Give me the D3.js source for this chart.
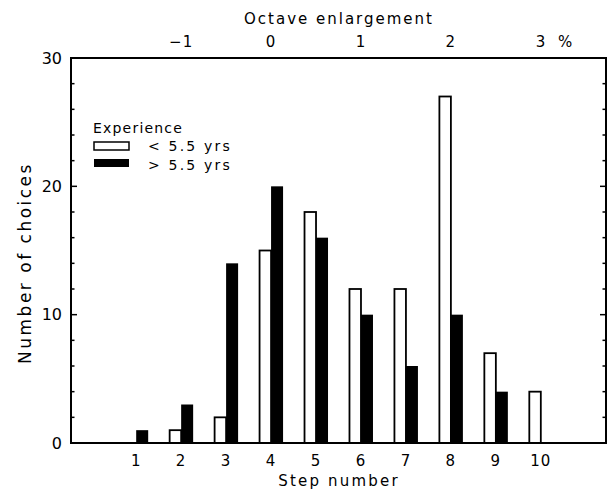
<!DOCTYPE html>
<html>
<head>
<meta charset="utf-8">
<script src="https://cdn.jsdelivr.net/npm/d3@7"></script>
<style>
  body { margin: 0; background: #fff; }
  text { font-family: "DejaVu Sans", sans-serif; fill: #000; }
</style>
</head>
<body>
<div id="chart"></div>
<script>
// step numbers and counts per experience group
const steps = [1, 2, 3, 4, 5, 6, 7, 8, 9, 10];
const lessExp = [0, 1, 2, 15, 18, 12, 12, 27, 7, 4];   // < 5.5 yrs (open bars)
const moreExp = [1, 3, 14, 20, 16, 10, 6, 10, 4, 0];   // > 5.5 yrs (filled bars)
const yTicks = [0, 10, 20, 30];
const octaveTicks = [-1, 0, 1, 2, 3];
const octaveLabels = ['\u22121', '0', '1', '2', '3 %'];

const width = 614, height = 494;
const margin = { top: 58, right: 8, bottom: 51, left: 71 };

const svg = d3.select('#chart')
  .append('svg')
    .attr('width', width)
    .attr('height', height);

const x = d3.scaleLinear()
  .domain([-0.45, 11.45])
  .range([margin.left, width - margin.right]);

const y = d3.scaleLinear()
  .domain([0, 30])
  .range([height - margin.bottom, margin.top]);

// octave enlargement: 0 at step 4, 1 % per 2 steps
const octStep = o => 4 + 2 * o;

const barW = 11.5;

// open bars (left of step)
svg.selectAll('.bar-less')
  .data(steps.filter((s, i) => lessExp[i] > 0))
  .enter()
  .append('rect')
    .attr('class', 'bar-less')
    .attr('x', s => x(s) - barW)
    .attr('y', s => y(lessExp[steps.indexOf(s)]))
    .attr('width', barW)
    .attr('height', s => y(0) - y(lessExp[steps.indexOf(s)]))
    .attr('fill', '#fff')
    .attr('stroke', '#000')
    .attr('stroke-width', 1.8);

// filled bars (right of step)
svg.selectAll('.bar-more')
  .data(steps.filter((s, i) => moreExp[i] > 0))
  .enter()
  .append('rect')
    .attr('class', 'bar-more')
    .attr('x', s => x(s))
    .attr('y', s => y(moreExp[steps.indexOf(s)]))
    .attr('width', barW + 0.5)
    .attr('height', s => y(0) - y(moreExp[steps.indexOf(s)]))
    .attr('fill', '#000');

// frame
svg.append('rect')
  .attr('x', x.range()[0])
  .attr('y', y(30))
  .attr('width', x.range()[1] - x.range()[0])
  .attr('height', y(0) - y(30))
  .attr('fill', 'none')
  .attr('stroke', '#000')
  .attr('stroke-width', 2);

// inward ticks on left and right, every 2
const tickVals = d3.range(2, 30, 2);
[x.range()[0], x.range()[1]].forEach((xx, k) => {
  const dir = k === 0 ? 1 : -1;
  svg.append('g')
    .selectAll('line')
    .data(tickVals)
    .enter()
    .append('line')
      .attr('x1', xx)
      .attr('x2', d => xx + dir * (d % 10 === 0 ? 6 : 3.5))
      .attr('y1', d => y(d))
      .attr('y2', d => y(d))
      .attr('stroke', '#000')
      .attr('stroke-width', 1.5);
});

// left axis labels
svg.append('g')
  .selectAll('text')
  .data(yTicks)
  .enter()
  .append('text')
    .attr('x', x.range()[0] - 9)
    .attr('y', d => y(d))
    .attr('dy', '0.36em')
    .attr('text-anchor', 'end')
    .attr('font-size', 16)
    .text(d => d);

// bottom step labels
svg.append('g')
  .selectAll('text')
  .data(steps)
  .enter()
  .append('text')
    .attr('x', d => x(d))
    .attr('y', 466)
    .attr('text-anchor', 'middle')
    .attr('font-size', 15)
    .attr('letter-spacing', 1)
    .text(d => d);

// top octave labels
svg.append('g')
  .selectAll('text')
  .data(octaveTicks)
  .enter()
  .append('text')
    .attr('x', d => x(octStep(d)))
    .attr('y', 47)
    .attr('text-anchor', d => d === 3 ? 'start' : 'middle')
    .attr('dx', d => d === 3 ? -5 : 0)
    .attr('font-size', 15)
    .attr('letter-spacing', d => d === 3 ? 4 : 1)
    .text((d, i) => octaveLabels[i]);

// axis titles
svg.append('text')
  .attr('x', 339)
  .attr('y', 486)
  .attr('text-anchor', 'middle')
  .attr('font-size', 15)
  .attr('letter-spacing', 2.2)
  .text('Step number');

svg.append('text')
  .attr('x', 339)
  .attr('y', 24)
  .attr('text-anchor', 'middle')
  .attr('font-size', 15)
  .attr('letter-spacing', 2)
  .text('Octave enlargement');

svg.append('text')
  .attr('transform', 'translate(31,263) rotate(-90)')
  .attr('text-anchor', 'middle')
  .attr('font-size', 17)
  .attr('letter-spacing', 2.5)
  .text('Number of choices');

// legend
const legend = svg.append('g');
legend.append('text')
  .attr('x', 93).attr('y', 133)
  .attr('font-size', 14)
  .attr('letter-spacing', 1.2)
  .text('Experience');
legend.append('rect')
  .attr('x', 94).attr('y', 142).attr('width', 35).attr('height', 8)
  .attr('fill', '#fff').attr('stroke', '#000').attr('stroke-width', 1.5);
legend.append('rect')
  .attr('x', 94).attr('y', 159).attr('width', 35).attr('height', 8)
  .attr('fill', '#000');
legend.append('text')
  .attr('x', 148).attr('y', 151)
  .attr('font-size', 14)
  .attr('letter-spacing', 2.2)
  .text('< 5.5 yrs');
legend.append('text')
  .attr('x', 148).attr('y', 170)
  .attr('font-size', 14)
  .attr('letter-spacing', 2.2)
  .text('> 5.5 yrs');
</script>
</body>
</html>
